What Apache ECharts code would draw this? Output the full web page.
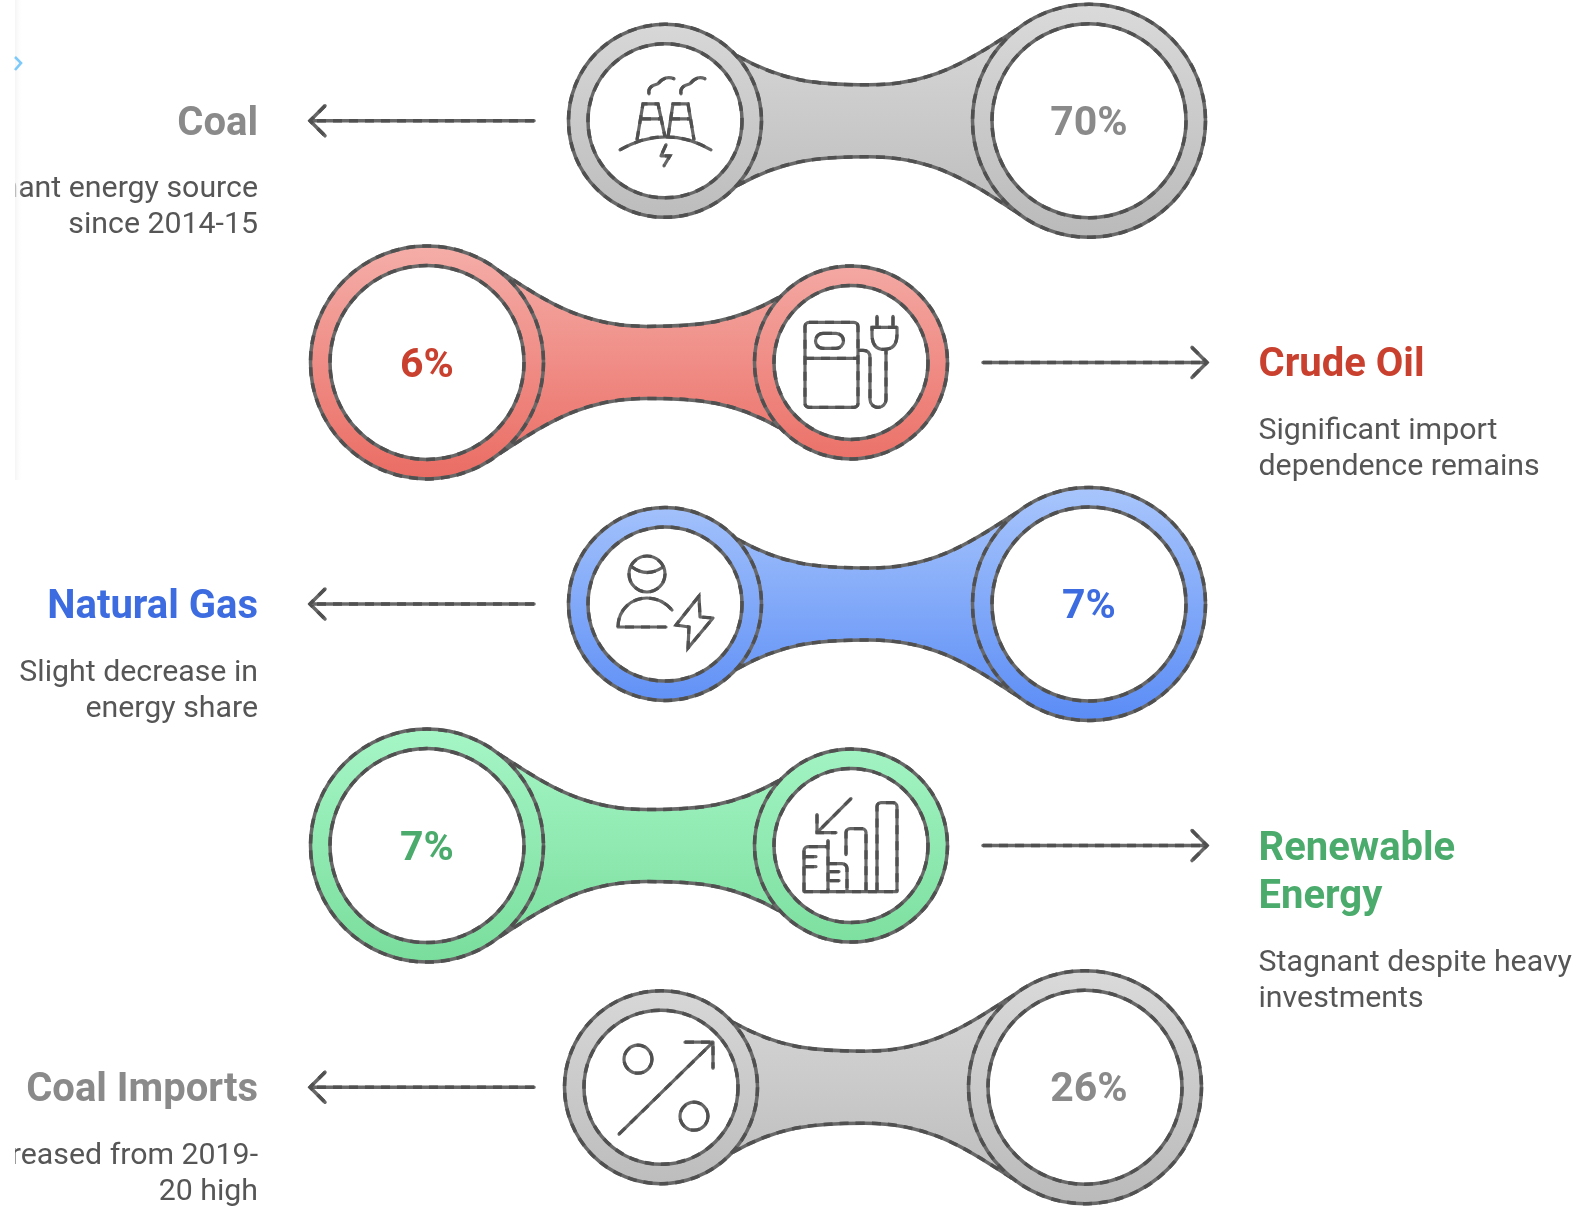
<!DOCTYPE html>
<html>
<head>
<meta charset="utf-8">
<title>Energy mix</title>
<style>
  html, body { margin: 0; padding: 0; background: #fff; }
  #main { width: 1580px; height: 1208px; }
</style>
<script src="https://cdn.jsdelivr.net/npm/echarts@6/dist/echarts.min.js"></script>
</head>
<body>
<div id="main"></div>
<script>
// chart data
const categories = ['Coal', 'Crude Oil', 'Natural Gas', 'Renewable\nEnergy', 'Coal Imports'];
const shares = [70, 6, 7, 7, 26];
const notes = [
  'Dominant energy source\nsince 2014-15',
  'Significant import\ndependence remains',
  'Slight decrease in\nenergy share',
  'Stagnant despite heavy\ninvestments',
  'Decreased from 2019-\n20 high'
];

// look of each row
const fillTop = ['#dadada', '#f5aea9', '#a9c6fc', '#a6f6c6', '#dadada'];
const fillBottom = ['#bababa', '#ea6c63', '#5a8cf6', '#79dd9c', '#bababa'];
const titleColor = ['#8a8a8a', '#c9402f', '#3d6ce0', '#4bab6c', '#8a8a8a'];
const INK = '#686868';
const INK_DARK = '#505050';
const TEXT = '#565656';
const FONT = 'Roboto, sans-serif';

// icons are drawn around the centre of the small ring
const icons = [
  // power plant
  'M-45,29 Q1,3 46,29 M-28,19 L-22,-17 H-7 L0,16 M3,16 L8,-17 H23 L29,19 M-23,-2 H-4 M6,-2 H25 ' +
  'M-16,-27 C-17,-33 -14,-35 -7,-37 C-3,-42 2,-45 9,-42 M16,-27 C15,-33 18,-35 25,-37 C29,-42 34,-45 40,-42 ' +
  'M1,24 L-4,35 H5 L-1,45',
  // fuel pump and plug
  'M-42,-40 H3 a4,4 0 0 1 4,4 V41 a4,4 0 0 1 -4,4 H-42 a4,4 0 0 1 -4,-4 V-36 a4,4 0 0 1 4,-4 Z M-46,-4 H7 ' +
  'M-28,-29 H-15 a7.5,7.5 0 0 1 0,15 H-28 a7.5,7.5 0 0 1 0,-15 Z ' +
  'M7,-12 H12 Q19,-12 19,-5 V37 a8,8 0 0 0 16,0 V-13 M21,-35 H46 V-28 Q46,-13 33,-13 Q21,-13 21,-28 Z M26,-46 V-35 M42,-46 V-35',
  // worker and bolt
  'M0,-30 a18,18 0 1 1 -36,0 a18,18 0 1 1 36,0 Z M-33,-37 Q-18,-26 -2,-37 ' +
  'M1,23 H-47 C-47,5 -33,-6 -18,-6 C-8,-6 1,-1 7,6 M34,-8 L11,21 L24,23 L23,44 L48,14 L35,13 Z',
  // bars and down arrow
  'M26,46 V-39 a4,4 0 0 1 4,-4 H42 a4,4 0 0 1 4,4 V46 M-5,9 V-13 a4,4 0 0 1 4,-4 H11 a4,4 0 0 1 4,4 V46 ' +
  'M-47,46 H46 M-47,46 V5 a4,4 0 0 1 4,-4 H-23 M-23,-5 V46 M-23,18 H-9 a5,5 0 0 1 5,5 V46 ' +
  'M-46,11 H-35 M-46,21 H-35 M-21,26 H-12 M-21,35 H-12 M0,-47 L-34,-13 M-34,-31 V-13 H-15',
  // percent arrow
  'M-9,-28 a14,14 0 1 1 -28,0 a14,14 0 1 1 28,0 Z M47,29 a14,14 0 1 1 -28,0 a14,14 0 1 1 28,0 Z ' +
  'M-42,47 L52,-45 M24,-45 H52 V-19'
];

// connector outline, measured from the small ring towards the big one
function connectorPath(sx, lx, cy) {
  const dir = lx > sx ? 1 : -1;
  const a = sx + dir * 72;
  const m = sx + dir * 204;
  const b = lx - dir * 73;
  const top = 'M' + a + ',' + (cy - 65) +
    ' C' + (a + dir * 45) + ',' + (cy - 40) + ' ' + (m - dir * 55) + ',' + (cy - 36) + ' ' + m + ',' + (cy - 36) +
    ' C' + (m + dir * 65) + ',' + (cy - 36) + ' ' + (b - dir * 45) + ',' + (cy - 62) + ' ' + b + ',' + (cy - 91);
  const bottom = ' M' + b + ',' + (cy + 91) +
    ' C' + (b - dir * 45) + ',' + (cy + 62) + ' ' + (m + dir * 65) + ',' + (cy + 36) + ' ' + m + ',' + (cy + 36) +
    ' C' + (m - dir * 55) + ',' + (cy + 36) + ' ' + (a + dir * 45) + ',' + (cy + 40) + ' ' + a + ',' + (cy + 65);
  return top + bottom;
}

// the outlines in the picture are blotchy, so a solid pass and a dashed pass on top
function inked(el, width) {
  const base = Object.assign({}, el, {
    style: Object.assign({}, el.style, { stroke: INK, lineWidth: width, lineCap: 'round', lineJoin: 'round' })
  });
  const dash = Object.assign({}, el, {
    style: { fill: 'none', stroke: INK_DARK, lineWidth: width, lineDash: [9, 7] }
  });
  return [base, dash];
}

function renderRow(params, api) {
  const i = api.value(1);
  const cy = api.coord([0, i])[1];
  const onRight = i % 2 === 1;
  // rings
  const shift = i === 4 ? -4 : 0;
  const small = api.coord([onRight ? 851 : 665 + shift, i])[0];
  const large = api.coord([onRight ? 427 : 1089 + shift, i])[0];
  const labelX = api.coord([onRight ? 427 : 1089, i])[0];
  const gradient = {
    type: 'linear', x: 0, y: cy - 118, x2: 0, y2: cy + 118, global: true,
    colorStops: [{ offset: 0, color: fillTop[i] }, { offset: 1, color: fillBottom[i] }]
  };
  const circle = (cx, r, fill) => ({
    type: 'circle',
    shape: { cx: cx, cy: cy, r: r },
    style: { fill: fill }
  });
  const text = (x, y, str, size, weight, color, align) => ({
    type: 'text',
    x: x,
    y: y,
    style: {
      text: str, fontSize: size, fontWeight: weight, fontFamily: FONT,
      fill: color, align: align, verticalAlign: 'middle'
    }
  });

  const link = connectorPath(small, large, cy);
  // closed shape for the fill: both curves joined up
  const linkFill = link.replace(' M', ' L') + ' Z';
  const children = [
    { type: 'path', shape: { pathData: linkFill }, style: { fill: gradient } },
    ...inked({ type: 'path', shape: { pathData: link }, style: { fill: 'none' } }, 3.5),
    ...inked(circle(small, 96.5, gradient), 3.5),
    ...inked(circle(small, 77, '#fff'), 3.5),
    ...inked(circle(large, 116.5, gradient), 3.5),
    ...inked(circle(large, 97, '#fff'), 3.5),
    ...inked({ type: 'path', x: small, y: cy, shape: { pathData: icons[i] }, style: { fill: 'none' } }, 3.2),
    text(labelX, cy + 4, api.value(0) + '%', 41, 700, titleColor[i], 'center')
  ];

  // arrow plus the text block beside it
  const arrowA = onRight ? 983 : 534;
  const arrowB = onRight ? 1207 : 310;
  const head = onRight ? -15 : 15;
  children.push(...inked({
    type: 'path',
    shape: {
      pathData: 'M' + arrowA + ',' + cy + ' H' + arrowB +
        ' M' + (arrowB + head) + ',' + (cy - 15) + ' L' + arrowB + ',' + cy + ' L' + (arrowB + head) + ',' + (cy + 15)
    },
    style: { fill: 'none' }
  }, 3.5));

  const textX = onRight ? 1258.5 : 258;
  const align = onRight ? 'left' : 'right';
  const titleLines = categories[i].split('\n');
  titleLines.forEach(function (t, k) {
    children.push(text(textX, cy + 4 + k * 48, t, 40, 700, titleColor[i], align));
  });
  const noteTop = cy + 69 + (titleLines.length - 1) * 48.5;
  notes[i].split('\n').forEach(function (t, k) {
    children.push(text(textX, noteTop + k * 36, t, 30.3, 400, TEXT, align));
  });

  return { type: 'group', children: children };
}

const chart = echarts.init(document.getElementById('main'));
chart.setOption({
  animation: false,
  backgroundColor: '#fff',
  grid: { left: 0, top: 0, width: 1580, height: 1208 },
  xAxis: { type: 'value', min: 0, max: 1580, show: false },
  yAxis: { type: 'category', inverse: true, data: categories, show: false },
  series: [
    {
      type: 'custom',
      coordinateSystem: 'cartesian2d',
      clip: false,
      data: shares.map(function (v, i) { return [v, i]; }),
      encode: { x: 0, y: 1 },
      renderItem: renderRow
    }
  ],
  // sidebar edge that cuts the left text off
  graphic: [
    { type: 'rect', z: 100, shape: { x: 0, y: 0, width: 15, height: 1208 }, style: { fill: '#fff' } },
    {
      type: 'rect', z: 100,
      shape: { x: 15, y: 0, width: 8, height: 480 },
      style: {
        fill: new echarts.graphic.LinearGradient(0, 0, 1, 0, [
          { offset: 0, color: 'rgba(240,240,240,0.7)' },
          { offset: 1, color: 'rgba(255,255,255,0)' }
        ])
      }
    },
    {
      type: 'polyline', z: 101,
      shape: { points: [[15, 57], [21, 63], [15, 70]] },
      style: { fill: 'none', stroke: '#7cc9fa', lineWidth: 2.6 }
    }
  ]
});
</script>
</body>
</html>
